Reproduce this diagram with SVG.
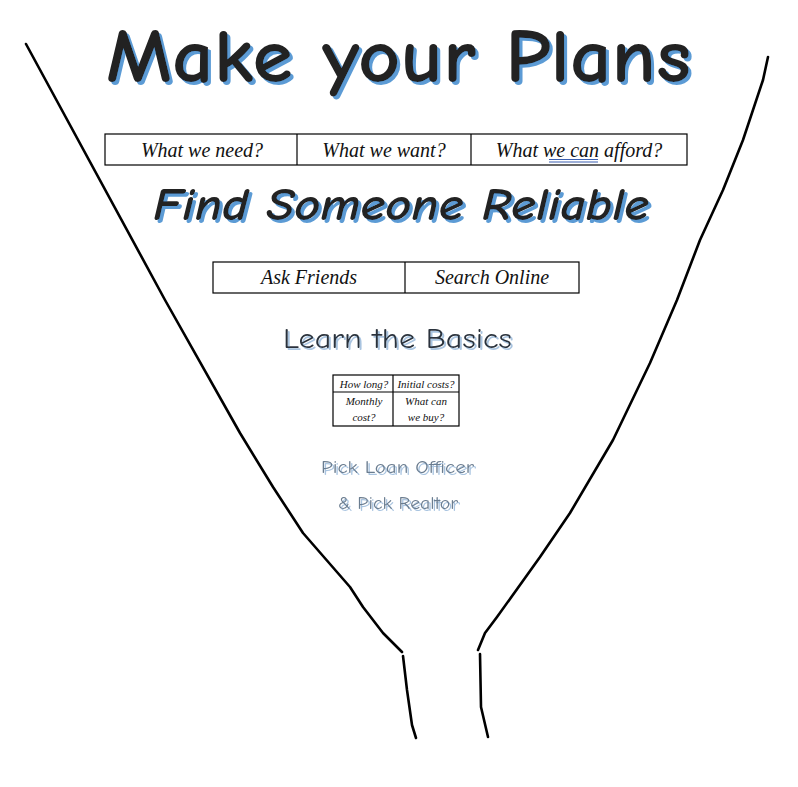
<svg xmlns="http://www.w3.org/2000/svg" width="798" height="787" viewBox="0 0 798 787">
<defs>
<filter id="shBig" x="-5%" y="-20%" width="110%" height="140%">
<feOffset in="SourceAlpha" dx="3" dy="3" result="o"/>
<feFlood flood-color="#5b9bd5"/>
<feComposite in2="o" operator="in" result="s"/>
<feMerge><feMergeNode in="s"/><feMergeNode in="SourceGraphic"/></feMerge>
</filter>
<filter id="shSmall" x="-5%" y="-20%" width="110%" height="140%">
<feOffset in="SourceAlpha" dx="1.5" dy="1.5" result="o"/>
<feFlood flood-color="#a9c4e0"/>
<feComposite in2="o" operator="in" result="s"/>
<feMerge><feMergeNode in="s"/><feMergeNode in="SourceGraphic"/></feMerge>
</filter>
</defs>
<style>
.funnel{fill:none;stroke:#000;stroke-width:2.6;stroke-linecap:round;stroke-linejoin:round}
.box{fill:#fff;stroke:#000;stroke-width:1.2}
.div{stroke:#000;stroke-width:1.2}
.head{font-family:"Comic Neue","Open Sans","Liberation Sans",sans-serif}
.hand{font-family:"Liberation Serif",serif;font-style:italic;fill:#111;text-anchor:middle}
</style>
<rect width="798" height="787" fill="#fff"/>
<g id="funnel">
<path class="funnel" d="M26,44 L165,300 L240,433 L273,487 L303,533 L350,587 L363,607 L383,633 L402,652"/>
<path class="funnel" d="M403,656 L407,690 L412,725 L416,738"/>
<path class="funnel" d="M768,57 L763,80 L743,140 L723,190 L700,240 L677,300 L650,363 L613,440 L570,513 L540,557 L497,617 L485,633 L478,650"/>
<path class="funnel" d="M480,654 L481,707 L488,737"/>
</g>
<g id="title" filter="url(#shBig)">
<text class="head" x="106" y="82" font-size="76" font-weight="bold" fill="#222" textLength="585" lengthAdjust="spacingAndGlyphs">Make your Plans</text>
</g>
<g id="plans-row">
<rect class="box" x="105" y="134" width="582" height="31"/>
<line class="div" x1="297" y1="134" x2="297" y2="165"/>
<line class="div" x1="471" y1="134" x2="471" y2="165"/>
<text class="hand" x="202" y="157" font-size="20">What we need?</text>
<text class="hand" x="384" y="157" font-size="20">What we want?</text>
<text class="hand" x="579" y="157" font-size="20">What we can afford?</text>
<line x1="549" y1="159.5" x2="598" y2="159.5" stroke="#3a5fb0" stroke-width="1"/>
<line x1="549" y1="162" x2="598" y2="162" stroke="#3a5fb0" stroke-width="1"/>
</g>
<g id="find" filter="url(#shBig)">
<text class="head" x="153" y="220" font-size="46" font-weight="bold" font-style="italic" fill="#222" textLength="496" lengthAdjust="spacingAndGlyphs">Find Someone Reliable</text>
</g>
<g id="find-row">
<rect class="box" x="213" y="262" width="366" height="31"/>
<line class="div" x1="405" y1="262" x2="405" y2="293"/>
<text class="hand" x="309" y="284" font-size="20">Ask Friends</text>
<text class="hand" x="492" y="284" font-size="20">Search Online</text>
</g>
<g id="learn" filter="url(#shSmall)">
<text class="head" x="283" y="348" font-size="29" fill="#2b333c" textLength="229" lengthAdjust="spacingAndGlyphs">Learn the Basics</text>
</g>
<g id="basics-table">
<rect class="box" x="333" y="375" width="126" height="51"/>
<line class="div" x1="393" y1="375" x2="393" y2="426"/>
<line class="div" x1="333" y1="392" x2="459" y2="392"/>
<text class="hand" x="364" y="388" font-size="11">How long?</text>
<text class="hand" x="426" y="388" font-size="11">Initial costs?</text>
<text class="hand" x="364" y="405" font-size="11">Monthly</text>
<text class="hand" x="364" y="421" font-size="11">cost?</text>
<text class="hand" x="426" y="405" font-size="11">What can</text>
<text class="hand" x="426" y="421" font-size="11">we buy?</text>
</g>
<g id="pick" filter="url(#shSmall)">
<text class="head" x="321" y="473" font-size="17" fill="#6b7d90" textLength="153" lengthAdjust="spacingAndGlyphs">Pick Loan Officer</text>
<text class="head" x="338" y="509" font-size="17" fill="#6b7d90" textLength="120" lengthAdjust="spacingAndGlyphs">&amp; Pick Realtor</text>
</g>
</svg>
